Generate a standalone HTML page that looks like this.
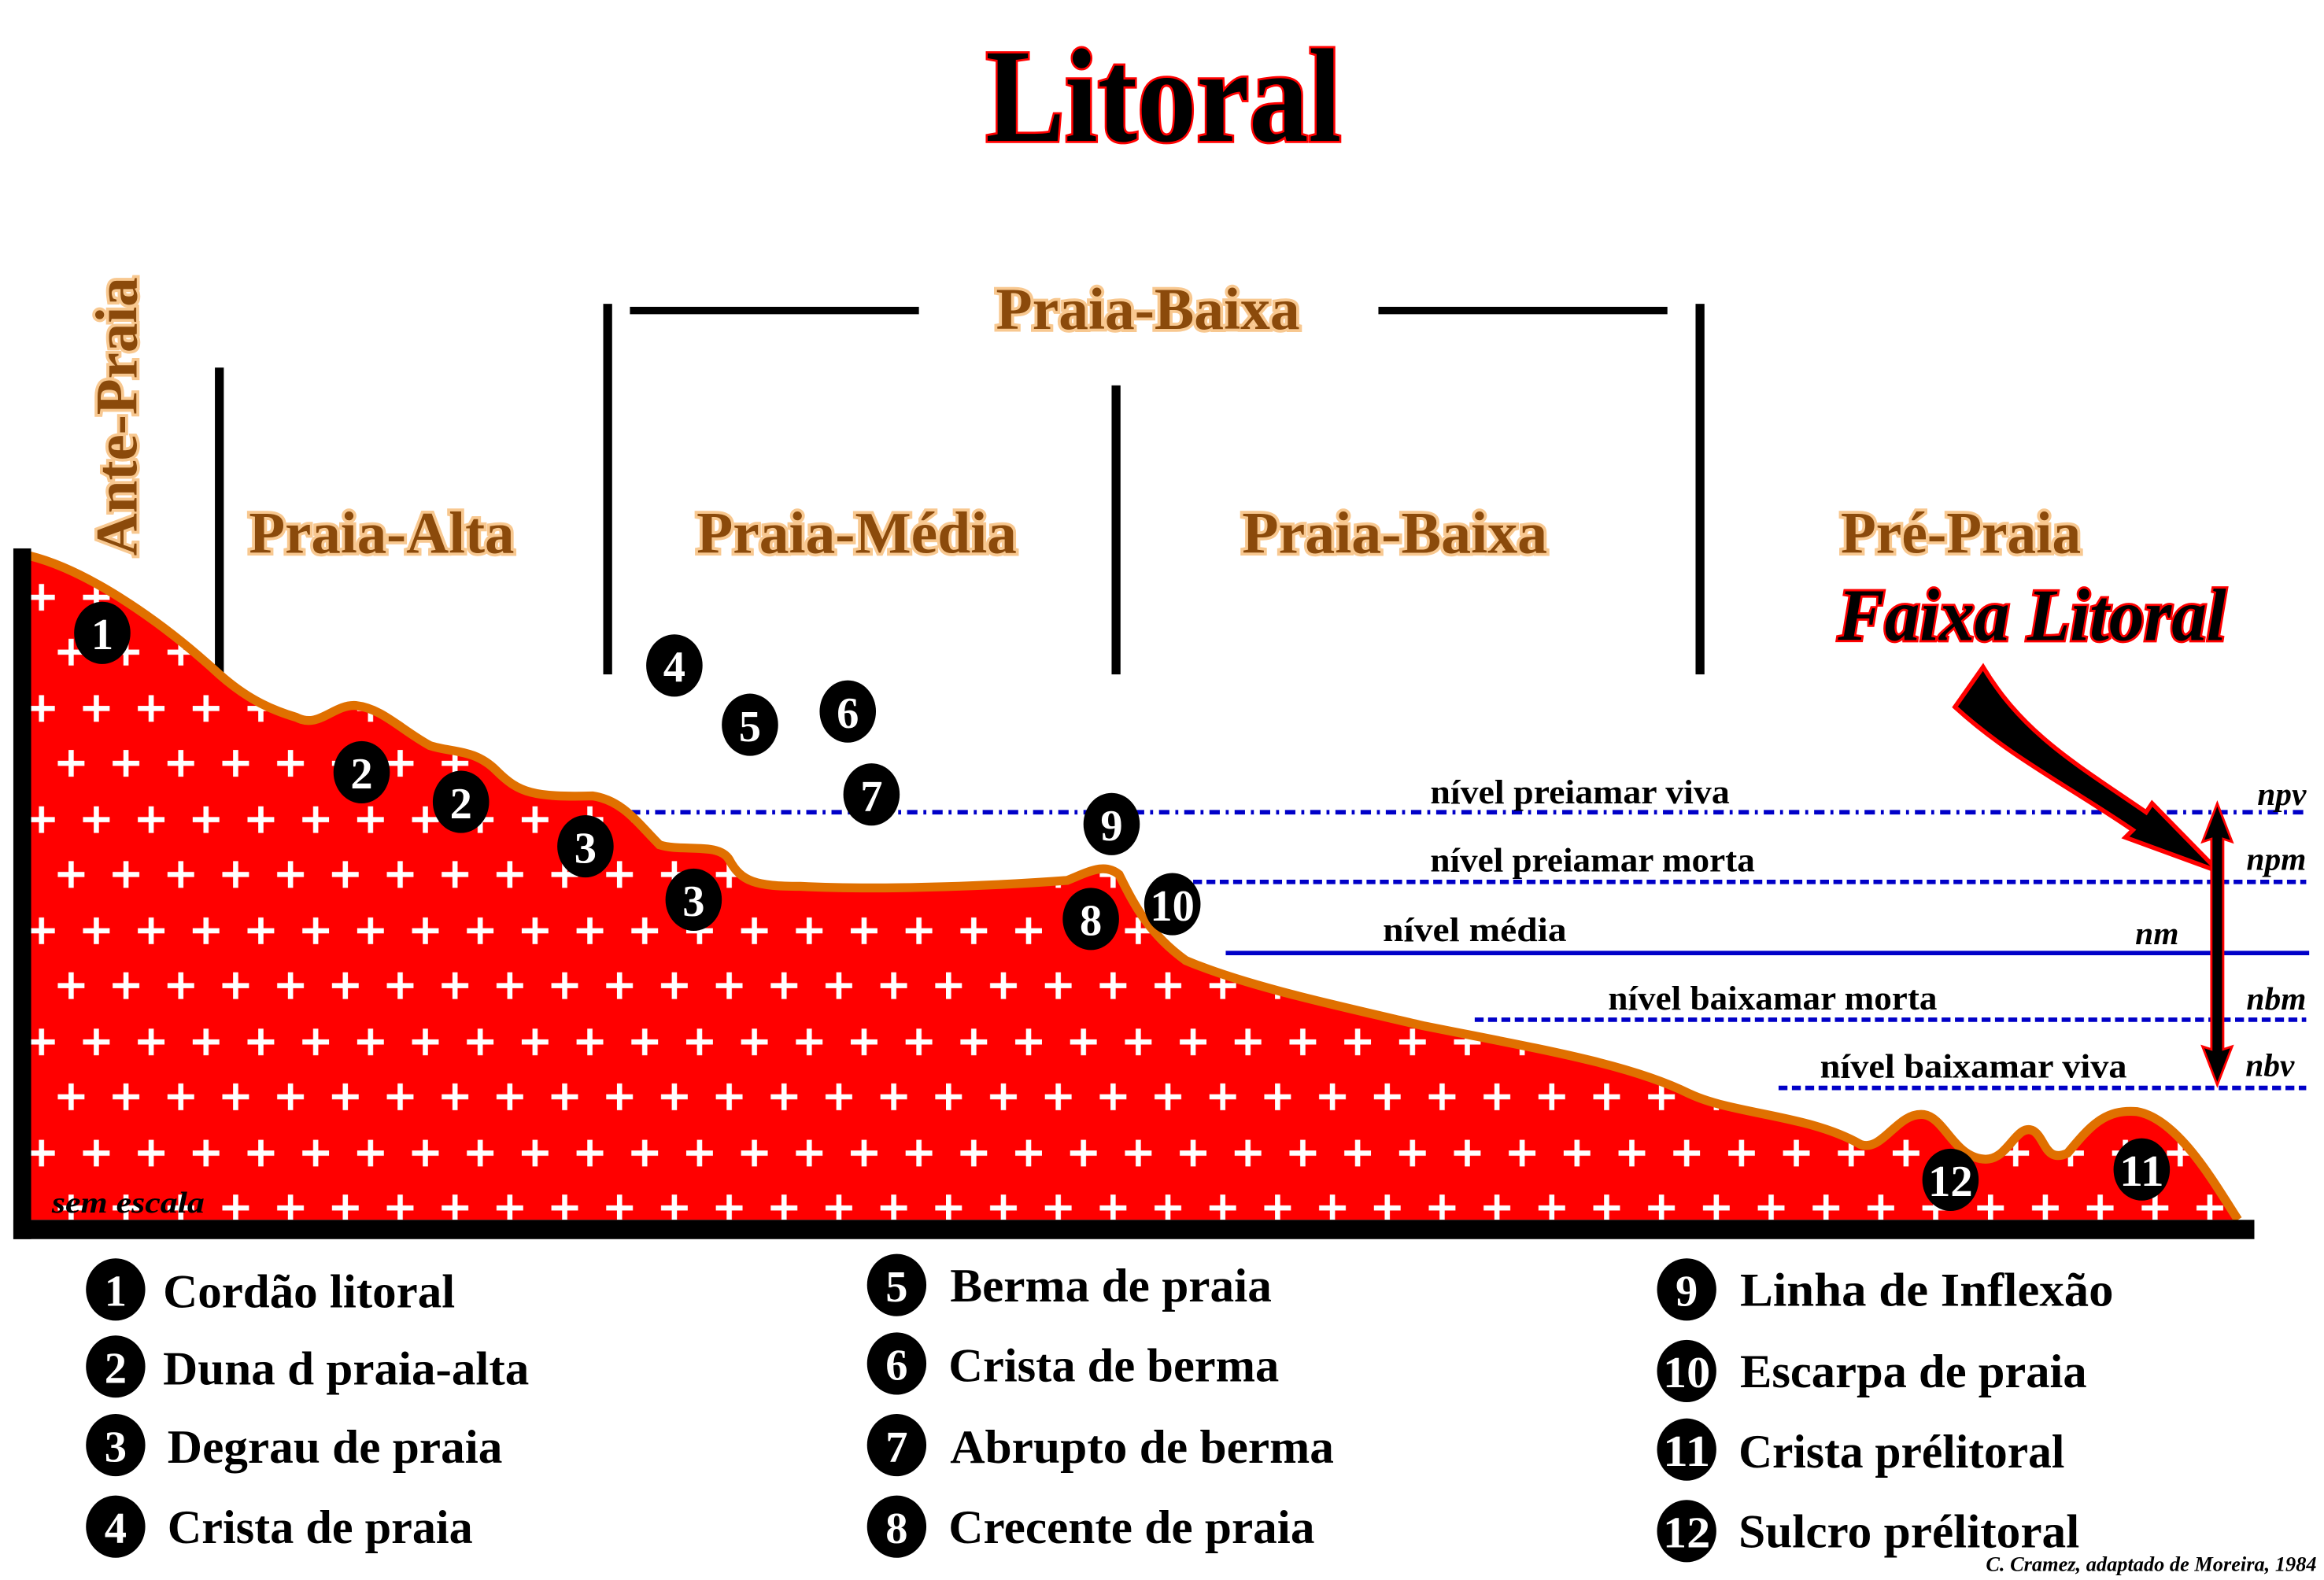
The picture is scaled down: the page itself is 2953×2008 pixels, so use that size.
<!DOCTYPE html>
<html><head><meta charset="utf-8">
<style>
html,body{margin:0;padding:0;background:#fff;}
svg{display:block;}
text{font-family:"Liberation Serif",serif;font-weight:bold;}
.br{fill:#8B4A0B;stroke:#F8C890;stroke-width:4;paint-order:stroke;font-size:40px;}
.lg{font-size:32px;fill:#000;}
.wl{font-size:23px;fill:#000;}
.ab{font-size:22px;fill:#000;font-style:italic;}
.cn{fill:#fff;font-size:30px;text-anchor:middle;}
</style></head>
<body>
<svg width="2953" height="2008" viewBox="0 0 1568 1066" preserveAspectRatio="none" xmlns="http://www.w3.org/2000/svg">
<defs>
<pattern id="pl" patternUnits="userSpaceOnUse" width="37" height="75" x="0" y="0">
<g stroke="#fff" stroke-width="3.5">
<path d="M19 28h18M28 19v18"/>
<path d="M2 65h18M11 56v18"/>
</g>
</pattern>
</defs>

<text x="785" y="95" text-anchor="middle" font-size="90" fill="#000" stroke="#f00" stroke-width="3" paint-order="stroke" textLength="240" lengthAdjust="spacingAndGlyphs">Litoral</text>

<text class="br" transform="translate(92,375) rotate(-90)" textLength="188" lengthAdjust="spacingAndGlyphs">Ante-Praia</text>

<g fill="#000">
<rect x="145" y="248" width="6" height="207"/>
<rect x="407" y="205" width="6" height="250"/>
<rect x="750" y="260" width="6" height="195"/>
<rect x="1144" y="205" width="6" height="250"/>
<rect x="425" y="207" width="195" height="5"/>
<rect x="930" y="207" width="195" height="5"/>
</g>
<text class="br" x="672" y="222" textLength="205" lengthAdjust="spacingAndGlyphs">Praia-Baixa</text>
<text class="br" x="168" y="373" textLength="179" lengthAdjust="spacingAndGlyphs">Praia-Alta</text>
<text class="br" x="470" y="373" textLength="216" lengthAdjust="spacingAndGlyphs">Praia-Média</text>
<text class="br" x="838" y="373" textLength="206" lengthAdjust="spacingAndGlyphs">Praia-Baixa</text>
<text class="br" x="1242" y="373" textLength="162" lengthAdjust="spacingAndGlyphs">Pré-Praia</text>
<text x="1240" y="432" font-size="50" font-style="italic" fill="#000" stroke="#f00" stroke-width="3" paint-order="stroke" textLength="262" lengthAdjust="spacingAndGlyphs">Faixa Litoral</text>

<g stroke="#0000c8" fill="none">
<line x1="425" y1="548" x2="1556" y2="548" stroke-width="3" stroke-dasharray="7,4,2,4"/>
<line x1="805" y1="595" x2="1556" y2="595" stroke-width="3" stroke-dasharray="6,3"/>
<line x1="827" y1="643" x2="1558" y2="643" stroke-width="3"/>
<line x1="995" y1="688" x2="1556" y2="688" stroke-width="3" stroke-dasharray="6,3"/>
<line x1="1200" y1="734" x2="1556" y2="734" stroke-width="3" stroke-dasharray="6,3"/>
</g>
<text class="wl" x="965" y="542" textLength="202" lengthAdjust="spacingAndGlyphs">nível preiamar viva</text>
<text class="wl" x="965" y="588" textLength="219" lengthAdjust="spacingAndGlyphs">nível preiamar morta</text>
<text class="wl" x="933" y="635" textLength="124" lengthAdjust="spacingAndGlyphs">nível média</text>
<text class="wl" x="1085" y="681" textLength="222" lengthAdjust="spacingAndGlyphs">nível baixamar morta</text>
<text class="wl" x="1228" y="727" textLength="207" lengthAdjust="spacingAndGlyphs">nível baixamar viva</text>
<text class="ab" x="1556" y="543" text-anchor="end">npv</text>
<text class="ab" x="1556" y="587" text-anchor="end">npm</text>
<text class="ab" x="1470" y="637" text-anchor="end">nm</text>
<text class="ab" x="1556" y="681" text-anchor="end">nbm</text>
<text class="ab" x="1548" y="726" text-anchor="end">nbv</text>

<path d="M20 375 C60 385 110 420 148 455 C165 470 180 478 200 484 C215 492 225 475 240 476 C258 478 270 492 290 503 C305 508 320 505 335 520 C350 535 360 538 400 537 C420 540 430 555 445 570 C460 575 485 568 492 580 C500 595 510 598 540 598 C600 601 680 597 720 594 C735 588 745 582 755 590 C765 610 775 630 800 648 C840 665 900 678 960 692 C1040 708 1100 718 1140 738 C1170 752 1220 752 1255 772 C1270 778 1280 750 1298 752 C1312 754 1318 780 1338 782 C1355 784 1360 757 1372 763 C1380 768 1380 785 1395 778 C1410 760 1420 748 1442 750 C1470 755 1495 800 1510 823 L20 823 Z" fill="#f00"/>
<path d="M20 375 C60 385 110 420 148 455 C165 470 180 478 200 484 C215 492 225 475 240 476 C258 478 270 492 290 503 C305 508 320 505 335 520 C350 535 360 538 400 537 C420 540 430 555 445 570 C460 575 485 568 492 580 C500 595 510 598 540 598 C600 601 680 597 720 594 C735 588 745 582 755 590 C765 610 775 630 800 648 C840 665 900 678 960 692 C1040 708 1100 718 1140 738 C1170 752 1220 752 1255 772 C1270 778 1280 750 1298 752 C1312 754 1318 780 1338 782 C1355 784 1360 757 1372 763 C1380 768 1380 785 1395 778 C1410 760 1420 748 1442 750 C1470 755 1495 800 1510 823 L20 823 Z" fill="url(#pl)"/>
<path d="M20 375 C60 385 110 420 148 455 C165 470 180 478 200 484 C215 492 225 475 240 476 C258 478 270 492 290 503 C305 508 320 505 335 520 C350 535 360 538 400 537 C420 540 430 555 445 570 C460 575 485 568 492 580 C500 595 510 598 540 598 C600 601 680 597 720 594 C735 588 745 582 755 590 C765 610 775 630 800 648 C840 665 900 678 960 692 C1040 708 1100 718 1140 738 C1170 752 1220 752 1255 772 C1270 778 1280 750 1298 752 C1312 754 1318 780 1338 782 C1355 784 1360 757 1372 763 C1380 768 1380 785 1395 778 C1410 760 1420 748 1442 750 C1470 755 1495 800 1510 823" fill="none" stroke="#E07000" stroke-width="6"/>
<rect x="9" y="370" width="12" height="466" fill="#000"/>
<rect x="9" y="823" width="1512" height="13" fill="#000"/>
<text x="35" y="818" font-size="20" font-style="italic" fill="#000" textLength="103" lengthAdjust="spacingAndGlyphs">sem escala</text>

<path d="M1338 450 C1365 495 1400 515 1448 548 L1452 542 L1497 588 L1434 565 L1439 560 C1395 530 1355 510 1319 477 Z" fill="#000" stroke="#f00" stroke-width="3" stroke-linejoin="miter"/>
<path d="M1496 542 L1506 568 L1500 566 L1500 708 L1506 706 L1496 732 L1486 706 L1492 708 L1492 566 L1486 568 Z" fill="#000" stroke="#f00" stroke-width="1.5"/>

<g>
<ellipse cx="69" cy="427" rx="19" ry="21"/><text class="cn" x="69" y="438">1</text>
<ellipse cx="244" cy="521" rx="19" ry="21"/><text class="cn" x="244" y="532">2</text>
<ellipse cx="311" cy="541" rx="19" ry="21"/><text class="cn" x="311" y="552">2</text>
<ellipse cx="395" cy="571" rx="19" ry="21"/><text class="cn" x="395" y="582">3</text>
<ellipse cx="468" cy="607" rx="19" ry="21"/><text class="cn" x="468" y="618">3</text>
<ellipse cx="455" cy="449" rx="19" ry="21"/><text class="cn" x="455" y="460">4</text>
<ellipse cx="506" cy="489" rx="19" ry="21"/><text class="cn" x="506" y="500">5</text>
<ellipse cx="572" cy="480" rx="19" ry="21"/><text class="cn" x="572" y="491">6</text>
<ellipse cx="588" cy="536" rx="19" ry="21"/><text class="cn" x="588" y="547">7</text>
<ellipse cx="750" cy="556" rx="19" ry="21"/><text class="cn" x="750" y="567">9</text>
<ellipse cx="736" cy="620" rx="19" ry="21"/><text class="cn" x="736" y="631">8</text>
<ellipse cx="791" cy="610" rx="19" ry="21"/><text class="cn" x="791" y="621" textLength="30" lengthAdjust="spacingAndGlyphs">10</text>
<ellipse cx="1316" cy="796" rx="19" ry="21"/><text class="cn" x="1316" y="807" textLength="30" lengthAdjust="spacingAndGlyphs">12</text>
<ellipse cx="1445" cy="789" rx="19" ry="21"/><text class="cn" x="1445" y="800" textLength="30" lengthAdjust="spacingAndGlyphs">11</text>
</g>

<g>
<ellipse cx="78" cy="870" rx="20" ry="21"/><ellipse cx="78" cy="922" rx="20" ry="21"/><ellipse cx="78" cy="975" rx="20" ry="21"/><ellipse cx="78" cy="1030" rx="20" ry="21"/>
<ellipse cx="605" cy="867" rx="20" ry="21"/><ellipse cx="605" cy="920" rx="20" ry="21"/><ellipse cx="605" cy="975" rx="20" ry="21"/><ellipse cx="605" cy="1030" rx="20" ry="21"/>
<ellipse cx="1138" cy="870" rx="20" ry="21"/><ellipse cx="1138" cy="925" rx="20" ry="21"/><ellipse cx="1138" cy="978" rx="20" ry="21"/><ellipse cx="1138" cy="1033" rx="20" ry="21"/>
</g>
<g>
<text class="cn" x="78" y="881">1</text><text class="cn" x="78" y="933">2</text><text class="cn" x="78" y="986">3</text><text class="cn" x="78" y="1041">4</text>
<text class="cn" x="605" y="878">5</text><text class="cn" x="605" y="931">6</text><text class="cn" x="605" y="986">7</text><text class="cn" x="605" y="1041">8</text>
<text class="cn" x="1138" y="881">9</text><text class="cn" x="1138" y="936" textLength="32" lengthAdjust="spacingAndGlyphs">10</text><text class="cn" x="1138" y="989" textLength="32" lengthAdjust="spacingAndGlyphs">11</text><text class="cn" x="1138" y="1044" textLength="32" lengthAdjust="spacingAndGlyphs">12</text>
</g>
<text class="lg" x="110" y="882" textLength="197" lengthAdjust="spacingAndGlyphs">Cordão litoral</text>
<text class="lg" x="110" y="934" textLength="247" lengthAdjust="spacingAndGlyphs">Duna d praia-alta</text>
<text class="lg" x="113" y="987" textLength="226" lengthAdjust="spacingAndGlyphs">Degrau de praia</text>
<text class="lg" x="113" y="1041" textLength="206" lengthAdjust="spacingAndGlyphs">Crista de praia</text>
<text class="lg" x="641" y="878" textLength="217" lengthAdjust="spacingAndGlyphs">Berma de praia</text>
<text class="lg" x="640" y="932" textLength="223" lengthAdjust="spacingAndGlyphs">Crista de berma</text>
<text class="lg" x="641" y="987" textLength="259" lengthAdjust="spacingAndGlyphs">Abrupto de berma</text>
<text class="lg" x="640" y="1041" textLength="247" lengthAdjust="spacingAndGlyphs">Crecente de praia</text>
<text class="lg" x="1174" y="881" textLength="252" lengthAdjust="spacingAndGlyphs">Linha de Inflexão</text>
<text class="lg" x="1174" y="936" textLength="234" lengthAdjust="spacingAndGlyphs">Escarpa de praia</text>
<text class="lg" x="1173" y="990" textLength="220" lengthAdjust="spacingAndGlyphs">Crista prélitoral</text>
<text class="lg" x="1173" y="1044" textLength="230" lengthAdjust="spacingAndGlyphs">Sulcro prélitoral</text>
<text x="1563" y="1060" text-anchor="end" font-size="14" font-style="italic" fill="#000">C. Cramez, adaptado de Moreira, 1984</text>
</svg>
</body></html>
